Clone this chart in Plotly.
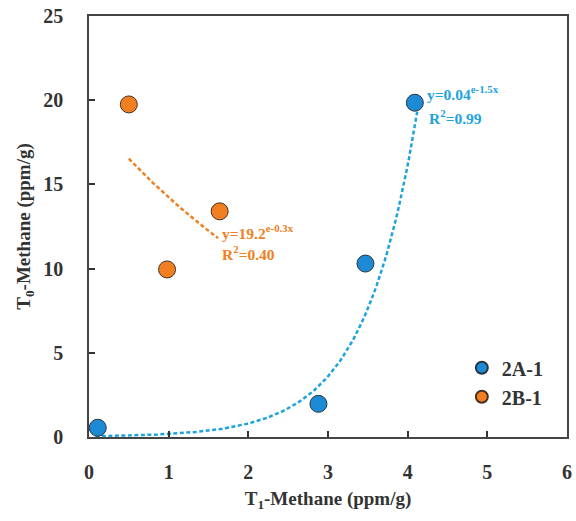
import numpy as np
import plotly.graph_objects as go

# Data
x_2a = [0.11, 2.88, 3.47, 4.09]
y_2a = [0.55, 1.97, 10.3, 19.85]
x_2b = [0.50, 0.98, 1.64]
y_2b = [19.75, 9.95, 13.4]

# Fit parameters (from annotations)
a_2a, b_2a = 0.04, 1.5
a_2b, b_2b = 19.2, -0.3
fit_x_2a = np.linspace(0.08, 4.12, 120)
fit_x_2b = np.linspace(0.50, 1.62, 40)

blue_pt = "#1C8AD4"
blue_ln = "#1EA3DC"
orange = "#F07F22"
font_fam = "Liberation Serif, Times New Roman, serif"

fig = go.Figure()
fig.add_trace(go.Scatter(x=fit_x_2a, y=a_2a * np.exp(b_2a * fit_x_2a), mode="lines",
                         line=dict(color=blue_ln, width=2.5, dash="4px,2.5px"), showlegend=False,
                         hoverinfo="skip"))
fig.add_trace(go.Scatter(x=fit_x_2b, y=a_2b * np.exp(b_2b * fit_x_2b), mode="lines",
                         line=dict(color=orange, width=2.5, dash="4px,2.5px"), showlegend=False,
                         hoverinfo="skip"))
fig.add_trace(go.Scatter(x=x_2a, y=y_2a, mode="markers", name="2A-1",
                         marker=dict(size=17, color=blue_pt, line=dict(color="#2a3440", width=1))))
fig.add_trace(go.Scatter(x=x_2b, y=y_2b, mode="markers", name="2B-1",
                         marker=dict(size=17, color=orange, line=dict(color="#4a3020", width=1))))

ann_font_b = dict(color=blue_ln, size=15.5, family=font_fam, weight="bold")
ann_font_o = dict(color=orange, size=15.5, family=font_fam, weight="bold")
fig.add_annotation(x=4.22, y=20.4, xanchor="left", yanchor="middle", showarrow=False,
                   text="y=0.04<sup>e-1.5x</sup>", font=ann_font_b)
fig.add_annotation(x=4.24, y=19.0, xanchor="left", yanchor="middle", showarrow=False,
                   text="R<sup>2</sup>=0.99", font=ann_font_b)
fig.add_annotation(x=1.65, y=12.2, xanchor="left", yanchor="middle", showarrow=False,
                   text="y=19.2<sup>e-0.3x</sup>", font=ann_font_o)
fig.add_annotation(x=1.65, y=10.9, xanchor="left", yanchor="middle", showarrow=False,
                   text="R<sup>2</sup>=0.40", font=ann_font_o)

axis_common = dict(showline=True, linecolor="#444444", linewidth=1.5, mirror=True,
                   ticks="inside", ticklen=6, tickwidth=1.5, tickcolor="#333333",
                   showgrid=False, zeroline=False,
                   tickfont=dict(size=20, family=font_fam, color="#333333", weight="bold"))
title_font = dict(size=19, family=font_fam, color="#333333", weight="bold")

fig.update_layout(
    width=576, height=521,
    margin=dict(l=89, r=4, t=16, b=84),
    paper_bgcolor="white", plot_bgcolor="white",
    font=dict(family=font_fam, color="#333333"),
    xaxis=dict(range=[0, 6], dtick=1, tickformat="d", ticklabelstandoff=16,
               title=dict(text="T<sub>1</sub>-Methane (ppm/g)", font=title_font, standoff=10),
               **axis_common),
    yaxis=dict(range=[0, 25], dtick=5, ticklabelstandoff=20,
               title=dict(text="T<sub>0</sub>-Methane (ppm/g)", font=title_font, standoff=8),
               **axis_common),
    legend=dict(x=0.78, y=0.13, xanchor="left", yanchor="middle", bgcolor="rgba(0,0,0,0)",
                font=dict(size=20, family=font_fam, color="#333333", weight="bold"),
                itemsizing="constant"),
    showlegend=True,
)

fig.write_html("out.html")
